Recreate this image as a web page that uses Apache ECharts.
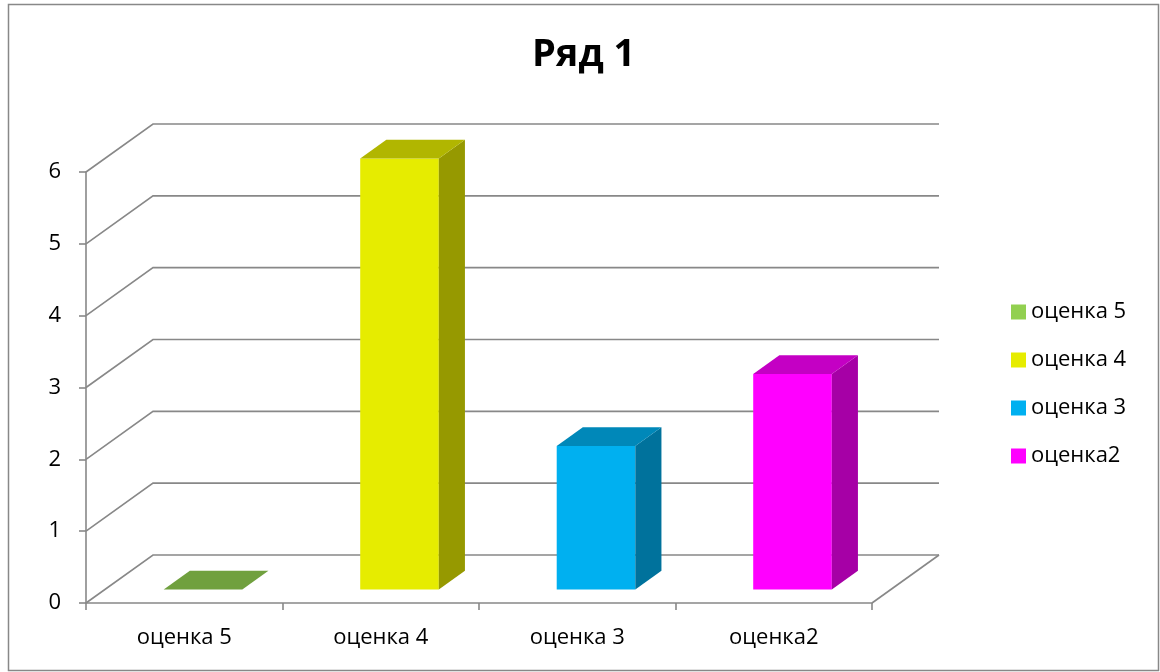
<!DOCTYPE html>
<html>
<head>
<meta charset="utf-8">
<script src="https://cdn.jsdelivr.net/npm/echarts@6/dist/echarts.min.js"></script>
<style>html,body{margin:0;padding:0;background:#fff}#c{width:1160px;height:672px}</style>
</head>
<body>
<div id="c"></div>
<script>
const title = 'Ряд 1';
const categories = ['оценка 5', 'оценка 4', 'оценка 3', 'оценка2'];
const values = [0, 6, 2, 3];
const colors = ['#92d050', '#e6ec00', '#00b0f0', '#ff00ff'];
const yTicks = [0, 1, 2, 3, 4, 5, 6];

const FONT = 'Open Sans';
const GRID_COLOR = '#888888';
const DX = 67, DY = -48;          // wall depth in px
const BAR_FRONT = 0.28, BAR_DEPTH = 0.39, BAR_W = 0.4;

function shade(hex, k) {
  const n = parseInt(hex.slice(1), 16);
  const r = Math.round(((n >> 16) & 255) * k), g = Math.round(((n >> 8) & 255) * k), b = Math.round((n & 255) * k);
  return 'rgb(' + r + ',' + g + ',' + b + ')';
}

function barRender(color) {
  return function (params, api) {
    const xi = api.value(0), v = api.value(1);
    const top = api.coord([xi, v]);
    const bot = api.coord([xi, 0]);
    const band = api.size([1, 0])[0];
    const w = band * BAR_W;
    const fx = BAR_FRONT * DX, fy = BAR_FRONT * DY;
    const dx = BAR_DEPTH * DX, dy = BAR_DEPTH * DY;
    const x0 = top[0] - w / 2 + fx, x1 = x0 + w;
    const yt = top[1] + fy, yb = bot[1] + fy;
    const children = [];
    if (yb - yt > 0.5) {
      children.push({ type: 'polygon', shape: { points: [[x0, yt], [x1, yt], [x1, yb], [x0, yb]] }, style: { fill: color } });
      children.push({ type: 'polygon', shape: { points: [[x1, yt], [x1 + dx, yt + dy], [x1 + dx, yb + dy], [x1, yb]] }, style: { fill: shade(color, 0.65) } });
    }
    children.push({ type: 'polygon', shape: { points: [[x0, yt], [x0 + dx, yt + dy], [x1 + dx, yt + dy], [x1, yt]] }, style: { fill: shade(color, 0.77) } });
    return { type: 'group', children: children };
  };
}

function wallRender(params, api) {
  const lvl = api.value(1);
  const p = api.coord([0, lvl]);
  const cs = params.coordSys;
  const L = cs.x, R = cs.x + cs.width, y = p[1];
  const children = [{
    type: 'polyline',
    shape: { points: [[L, y], [L + DX, y + DY], [R + DX, y + DY]] },
    style: { stroke: GRID_COLOR, lineWidth: 1.6, fill: null }
  }];
  if (lvl === yTicks[0]) {
    children.push({ type: 'line', shape: { x1: R, y1: y, x2: R + DX, y2: y + DY }, style: { stroke: GRID_COLOR, lineWidth: 1.6 } });
  }
  return { type: 'group', children: children };
}

const series = [{
  type: 'custom',
  name: '_walls',
  renderItem: wallRender,
  data: yTicks.map(t => [0, t]),
  clip: false,
  silent: true,
  z: 1
}];
categories.forEach((c, i) => {
  series.push({
    type: 'custom',
    name: c,
    renderItem: barRender(colors[i]),
    itemStyle: { color: colors[i] },
    data: [[i, values[i]]],
    clip: false,
    z: 3
  });
});

const chart = echarts.init(document.getElementById('c'), null, { renderer: 'canvas' });
chart.setOption({
  animation: false,
  backgroundColor: '#fff',
  textStyle: { fontFamily: FONT },
  title: {
    text: title, left: 527, top: 31,
    textStyle: { fontFamily: FONT, fontSize: 38, fontWeight: 'bold', color: '#000' }
  },
  legend: {
    orient: 'vertical', left: 1006, top: 296,
    data: categories, icon: 'rect', itemWidth: 15, itemHeight: 15, itemGap: 26,
    textStyle: { fontFamily: FONT, fontSize: 22, color: '#000' }
  },
  grid: { left: 86, right: 288, top: 172, bottom: 69, containLabel: false },
  xAxis: {
    type: 'category', data: categories,
    axisLine: { lineStyle: { color: GRID_COLOR, width: 1.6 } },
    axisTick: { show: true, length: 7, lineStyle: { color: GRID_COLOR, width: 1.6 } },
    axisLabel: { color: '#000', fontSize: 22, fontFamily: FONT, margin: 24 },
    splitLine: { show: false }
  },
  yAxis: {
    type: 'value', min: 0, max: 6, interval: 1,
    axisLine: { show: true, lineStyle: { color: GRID_COLOR, width: 1.6 } },
    axisTick: { show: true, length: 7, lineStyle: { color: GRID_COLOR, width: 1.6 } },
    axisLabel: { color: '#000', fontSize: 22, fontFamily: FONT, margin: 25 },
    splitLine: { show: false }
  },
  graphic: [{
    type: 'rect', shape: { x: 8.5, y: 4.5, width: 1150, height: 666 },
    style: { fill: null, stroke: '#888', lineWidth: 1.5 }, silent: true
  }],
  series: series
});
</script>
</body>
</html>
